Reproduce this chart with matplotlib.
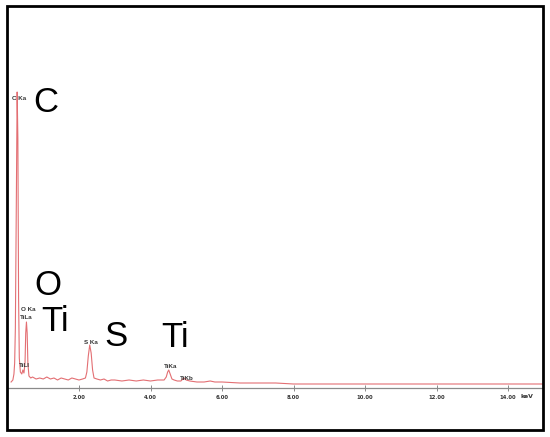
import matplotlib
matplotlib.use("Agg")
import matplotlib.pyplot as plt
from matplotlib.patches import Rectangle

# Spectrum: energy (keV) and counts (arbitrary units)
energy = [0.10, 0.15, 0.18, 0.20, 0.22, 0.25, 0.27, 0.29, 0.31, 0.33, 0.36, 0.40,
          0.43, 0.46, 0.49, 0.51, 0.53, 0.55, 0.57, 0.60, 0.65, 0.70, 0.80, 0.90,
          1.00, 1.10, 1.20, 1.30, 1.40, 1.50, 1.60, 1.70, 1.80, 1.90, 2.00, 2.10,
          2.18, 2.22, 2.26, 2.30, 2.34, 2.38, 2.42, 2.50, 2.60, 2.70, 2.80, 2.90,
          3.00, 3.20, 3.40, 3.60, 3.80, 4.00, 4.20, 4.38, 4.44, 4.48, 4.51, 4.55,
          4.60, 4.66, 4.75, 4.85, 4.93, 5.00, 5.10, 5.30, 5.50, 5.67, 5.80, 6.00,
          6.50, 7.00, 7.50, 8.00, 9.00, 10.00, 11.00, 12.00, 13.00, 14.00, 14.98]
counts = [6, 8, 14, 25, 60, 200, 296, 250, 90, 30, 16, 14,
          18, 15, 25, 55, 66, 55, 25, 12, 10, 11, 9, 10,
          9, 11, 9, 10, 8, 10, 9, 8, 10, 9, 8, 9,
          10, 16, 32, 43, 35, 18, 10, 9, 8, 9, 7, 8,
          8, 7, 8, 7, 8, 7, 8, 8, 11, 16, 18, 14,
          9, 8, 7, 7, 10, 8, 7, 6, 6, 7, 6, 6,
          5, 5, 5, 4, 4, 4, 4, 4, 4, 4, 4]

tick_values = [2, 4, 6, 8, 10, 12, 14]
tick_labels = ["2.00", "4.00", "6.00", "8.00", "10.00", "12.00", "14.00"]

# Peak labels: (text, keV, counts)
small_labels = [("C Ka", 0.13, 288), ("O Ka", 0.38, 77), ("TiLa", 0.35, 69),
                ("TiLl", 0.32, 21), ("S Ka", 2.14, 44), ("TiKa", 4.38, 20),
                ("TiKb", 4.83, 8)]
big_labels = [("C", 0.72, 276), ("O", 0.75, 93), ("Ti", 0.95, 57),
              ("S", 2.71, 42), ("Ti", 4.31, 41)]

W, H = 550, 437
fig = plt.figure(figsize=(W / 100, H / 100), dpi=100)

# outer frame
fig.patches.append(Rectangle((7 / W, (H - 430) / H), 536 / W, 424 / H,
                             transform=fig.transFigure, fill=False,
                             edgecolor="black", linewidth=2))

x0, x1, ytop, ybase = 7.5, 543, 6, 388
ax = fig.add_axes([x0 / W, (H - ybase) / H, (x1 - x0) / W, (ybase - ytop) / H])
ax.set_xlim(0, (x1 - x0) / 35.75)
ax.set_ylim(0, ybase - ytop)
ax.patch.set_alpha(0)
for s in ["top", "left", "right"]:
    ax.spines[s].set_visible(False)
ax.spines["bottom"].set_color("#8a8a8a")
ax.spines["bottom"].set_linewidth(0.9)

ax.plot(energy, counts, color="#e36f73", linewidth=0.8)

ax.set_xticks(tick_values)
ax.set_xticklabels(tick_labels, fontsize=3.8, fontweight="bold", color="#333333")
ax.tick_params(axis="x", direction="inout", length=4, width=0.6, color="#777777", pad=3)
ax.set_yticks([])
ax.text(14.53, -9, "keV", fontsize=4.4, fontweight="bold", color="#333333",
        ha="center", va="center", clip_on=False)

for t, x, y in small_labels:
    ax.text(x, y, t, fontsize=4.5, fontweight="bold", color="#333333",
            ha="left", va="baseline", family="Liberation Sans")
for t, x, y in big_labels:
    ax.text(x, y, t, fontsize=25, color="black", ha="left", va="baseline",
            family="Liberation Sans")

fig.savefig("out.png", dpi=100)
